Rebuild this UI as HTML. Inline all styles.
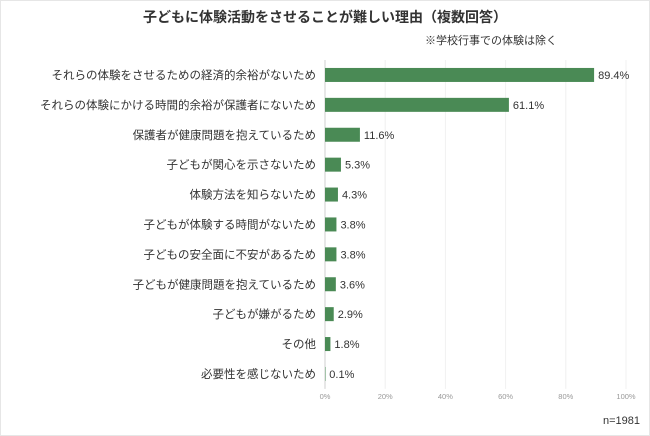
<!DOCTYPE html>
<html><head><meta charset="utf-8"><style>
body{margin:0;background:#fff;font-family:"Liberation Sans","Noto Sans CJK JP",sans-serif;}
svg{display:block}
</style></head><body>
<svg width="650" height="436" id="c">
<rect x="0.5" y="0.5" width="649" height="435" fill="#fff" stroke="#e6e6e6"/>
<text x="325" y="22" text-anchor="middle" font-size="14" font-weight="bold" fill="#333">子どもに体験活動をさせることが難しい理由（複数回答）</text>
<text x="425" y="44" font-size="11" fill="#333">※学校行事での体験は除く</text>
<text x="640" y="424" text-anchor="end" font-size="11" fill="#333">n=1981</text>
<g id="grid"></g><g id="bars"></g><g id="ticks"></g>
</svg>
<script>
const categories=["それらの体験をさせるための経済的余裕がないため","それらの体験にかける時間的余裕が保護者にないため","保護者が健康問題を抱えているため","子どもが関心を示さないため","体験方法を知らないため","子どもが体験する時間がないため","子どもの安全面に不安があるため","子どもが健康問題を抱えているため","子どもが嫌がるため","その他","必要性を感じないため"];
const values=[89.4,61.1,11.6,5.3,4.3,3.8,3.8,3.6,2.9,1.8,0.1];
const tickValues=[0,20,40,60,80,100];
const tickLabels=["0%","20%","40%","60%","80%","100%"];
const NS="http://www.w3.org/2000/svg";
const x0=325,x1=626,plotTop=60,step=29.9,bh=14;
const xs=v=>x0+(x1-x0)*v/100;
const yc=i=>plotTop+step*(i+0.5);
function mk(t,a,p){const e=document.createElementNS(NS,t);for(const k in a)e.setAttribute(k,a[k]);p.appendChild(e);return e;}
const G=document.getElementById('grid'),B=document.getElementById('bars'),T=document.getElementById('ticks');
tickValues.forEach((v,i)=>{
 const l=mk('line',{x1:xs(v),x2:xs(v),y1:plotTop,y2:plotTop+step*categories.length,stroke:i==0?'#cfcfcf':'#f0f0f0'},G);
 
 
 const t=mk('text',{x:xs(v),y:399,'text-anchor':'middle','font-size':7.5,fill:'#999'},T);
 t.textContent=tickLabels[i];
 
 
});
categories.forEach((c,i)=>{
 const y=yc(i);
 const lb=mk('text',{x:316,y:y+4,'text-anchor':'end','font-size':11.5,fill:'#333'},B);
 lb.textContent=c;
 
 
 const r=mk('rect',{x:x0,y:y-bh/2,width:Math.max(xs(values[i])-x0,0.5),height:bh,fill:'#4a8a55'},B);
 
 
 const vl=mk('text',{x:xs(values[i])+4,y:y+4,'font-size':11,fill:'#333'},B);
 vl.textContent=values[i].toFixed(1)+'%';
 
 
});
</script>
</body></html>
